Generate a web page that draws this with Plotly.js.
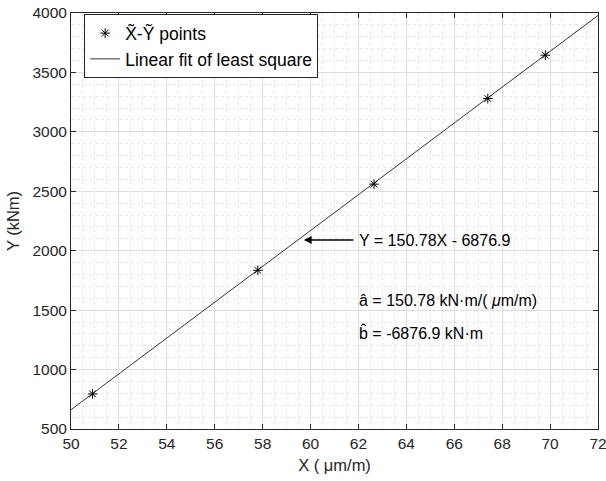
<!DOCTYPE html>
<html>
<head>
<meta charset="utf-8">
<script src="https://cdn.plot.ly/plotly-3.0.1.min.js"></script>
<style>html,body{margin:0;padding:0;background:#fff;}#chart{width:606px;height:481px;}</style>
</head>
<body>
<div id="chart"></div>
<script>
// Data
const xPoints = [50.9, 57.8, 62.65, 67.4, 69.8];
const yPoints = [795, 1835, 2560, 3280, 3645];
const slope = 150.78;
const intercept = -6876.9;
const fitX = [50, 72];
const fitY = fitX.map(x => slope * x + intercept);
const xTicks = [50, 52, 54, 56, 58, 60, 62, 64, 66, 68, 70, 72];
const yTicks = [500, 1000, 1500, 2000, 2500, 3000, 3500, 4000];

const fontFam = 'Liberation Sans, Arial, Helvetica, sans-serif';
const tickCol = '#262626';

const traces = [
  {
    x: xPoints, y: yPoints, mode: 'markers', type: 'scatter',
    name: 'X\u0303-Y\u0303 points',
    marker: {symbol: 'asterisk-open', size: 8, color: '#000', line: {color: '#000', width: 1}},
    cliponaxis: false
  },
  {
    x: fitX, y: fitY, mode: 'lines', type: 'scatter',
    name: 'Linear fit of least square',
    line: {color: '#000', width: 0.8}
  }
];

const axisCommon = {
  showline: true, linecolor: tickCol, linewidth: 1, mirror: 'ticks',
  ticks: 'inside', ticklen: 5, tickcolor: tickCol,
  tickfont: {family: fontFam, size: 15.5, color: tickCol},
  ticklabeloverflow: 'allow',
  showgrid: true, gridcolor: '#dedede', gridwidth: 1,
  zeroline: false
};

const layout = {
  width: 606, height: 481,
  margin: {l: 71, r: 8, t: 13, b: 52},
  paper_bgcolor: '#fff', plot_bgcolor: '#fff',
  font: {family: fontFam, color: tickCol},
  showlegend: true,
  legend: {
    x: 0.025, y: 0.997, xanchor: 'left', yanchor: 'top',
    bgcolor: '#fff', bordercolor: '#262626', borderwidth: 1,
    font: {family: fontFam, size: 17.5, color: '#000'},
    tracegroupgap: 0
  },
  xaxis: Object.assign({}, axisCommon, {
    range: [50, 72], tickmode: 'array', tickvals: xTicks, ticktext: xTicks.map(String),
    title: {text: 'X ( \u03bcm/m)', font: {family: fontFam, size: 16.5, color: tickCol}, standoff: 8},
    minor: {dtick: 0.5, showgrid: true, gridcolor: '#e6e6e6', griddash: 'dot', gridwidth: 1}
  }),
  yaxis: Object.assign({}, axisCommon, {
    range: [500, 4000], tickmode: 'array', tickvals: yTicks, ticktext: yTicks.map(String),
    title: {text: 'Y (kNm)', font: {family: fontFam, size: 16.5, color: tickCol}, standoff: 8},
    minor: {dtick: 100, showgrid: true, gridcolor: '#e6e6e6', griddash: 'dot', gridwidth: 1}
  }),
  annotations: [
    {
      x: 59.72, y: 2090, xref: 'x', yref: 'y',
      ax: 61.85, ay: 2090, axref: 'x', ayref: 'y',
      text: '', showarrow: true, arrowhead: 2, arrowsize: 1.2, arrowwidth: 1.3, arrowcolor: '#000'
    },
    {
      x: 61.95, y: 2090, xref: 'x', yref: 'y', xanchor: 'left', yanchor: 'middle',
      text: 'Y = 150.78X - 6876.9', showarrow: false,
      font: {family: fontFam, size: 16, color: '#000'}
    },
    {
      x: 61.95, y: 1585, xref: 'x', yref: 'y', xanchor: 'left', yanchor: 'middle',
      text: '\u00e2 = 150.78 kN\u00b7m/( <i>\u03bc</i>m/m)', showarrow: false,
      font: {family: fontFam, size: 16, color: '#000'}
    },
    {
      x: 61.95, y: 1308, xref: 'x', yref: 'y', xanchor: 'left', yanchor: 'middle',
      text: 'b\u0302 = -6876.9 kN\u00b7m', showarrow: false,
      font: {family: fontFam, size: 16, color: '#000'}
    }
  ]
};

Plotly.newPlot('chart', traces, layout, {displayModeBar: false, responsive: false});
</script>
</body>
</html>
